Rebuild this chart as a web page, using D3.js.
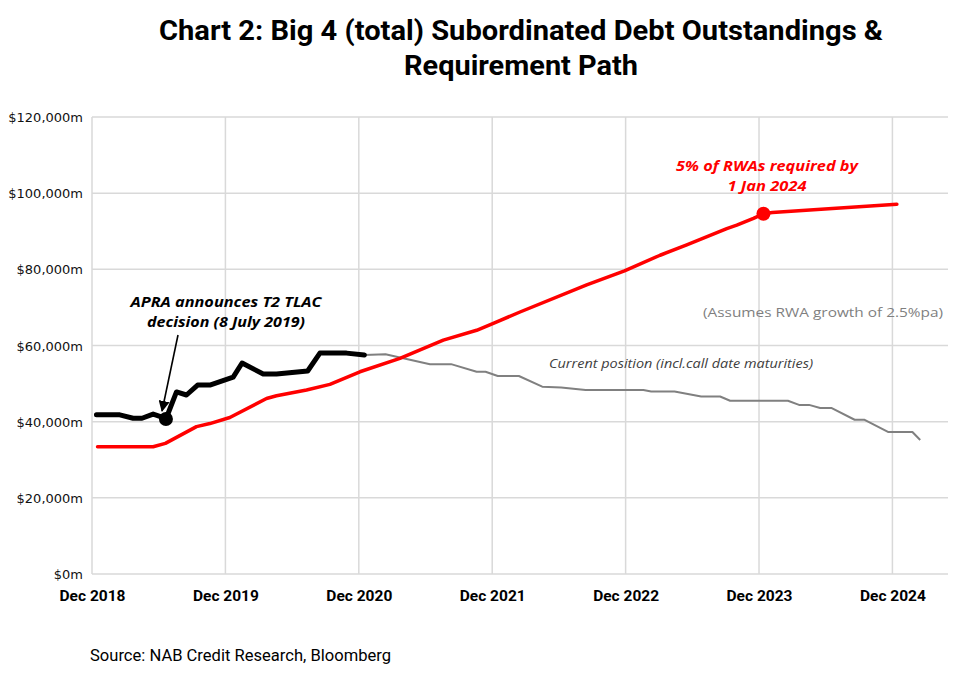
<!DOCTYPE html>
<html>
<head>
<meta charset="utf-8">
<script src="https://cdn.jsdelivr.net/npm/d3@7"></script>
<style>
  body { margin: 0; background: #fff; }
</style>
</head>
<body>
<div id="chart"></div>
<script>
// months counted from Dec 2018
var tickMonths = [0, 12, 24, 36, 48, 60, 72];
var tickLabels = ["Dec 2018", "Dec 2019", "Dec 2020", "Dec 2021", "Dec 2022", "Dec 2023", "Dec 2024"];
var yTicks = [0, 20000, 40000, 60000, 80000, 100000, 120000];

// actual outstandings (thick black)
var blackMonths = [0.4, 2.5, 3.7, 4.5, 5.5, 6.3, 6.65, 7.6, 8.5, 9.5, 10.6, 12.7, 13.5, 15.4, 16.6, 19.4, 20.5, 22.9, 24.5];
var blackValues = [41800, 41800, 40900, 40900, 42000, 41200, 40700, 47800, 47000, 49600, 49600, 51700, 55400, 52500, 52500, 53300, 58000, 58000, 57500];

// current position incl. call date maturities (grey)
var greyMonths = [24.5, 26.4, 30.4, 32.3, 34.6, 35.4, 36.5, 38.4, 40.5, 42.2, 44.4, 49.6, 50.3, 52.4, 54.8, 56.5, 57.4, 62.6, 63.6, 64.5, 65.5, 66.5, 68.6, 69.5, 71.6, 73.8, 74.5];
var greyValues = [57500, 57700, 55100, 55100, 53100, 53100, 52000, 52000, 49200, 49000, 48300, 48300, 47900, 47900, 46600, 46600, 45500, 45500, 44400, 44400, 43600, 43600, 40500, 40500, 37300, 37300, 35200];

// requirement path (red)
var redMonths = [0.5, 5.5, 6.6, 9.4, 10.6, 12.4, 15.7, 16.6, 19.3, 21.4, 24.1, 27.7, 31.6, 34.6, 36.1, 38.5, 44.5, 47.9, 51.1, 53.5, 57.1, 58.0, 59.5, 60.4, 61.2, 66.6, 72.4];
var redValues = [33400, 33400, 34300, 38700, 39500, 41100, 46100, 46800, 48300, 49800, 53100, 56600, 61400, 64000, 65800, 68800, 75900, 79600, 83700, 86400, 90700, 91600, 93400, 94600, 94900, 96000, 97100];

var apraDot = {m: 6.65, v: 40700};
var reqDot = {m: 60.4, v: 94600};

function zip(ms, vs) {
  return ms.map(function(m, i) { return {m: m, v: vs[i]}; });
}
var blackData = zip(blackMonths, blackValues);
var greyData = zip(greyMonths, greyValues);
var redData = zip(redMonths, redValues);

var W = 960, H = 677;
var margin = {top: 117, right: 12, bottom: 103, left: 92},
    width = W - margin.left - margin.right,
    height = H - margin.top - margin.bottom;

var svg = d3.select("#chart")
  .append("svg")
  .attr("width", W)
  .attr("height", H)
  .style("background", "#fff");

// title
var title = svg.append("g")
  .attr("font-family", "Roboto")
  .attr("font-weight", 700)
  .attr("font-size", 28)
  .attr("fill", "#000")
  .attr("text-anchor", "middle");
title.append("text").attr("x", 521).attr("y", 40)
  .attr("textLength", 724).attr("lengthAdjust", "spacingAndGlyphs")
  .text("Chart 2: Big 4 (total) Subordinated Debt Outstandings &");
title.append("text").attr("x", 521).attr("y", 75)
  .attr("textLength", 234).attr("lengthAdjust", "spacingAndGlyphs")
  .text("Requirement Path");

var g = svg.append("g")
  .attr("transform", "translate(" + margin.left + "," + margin.top + ")");

var x = d3.scaleLinear().domain([0, 77]).range([0, width]);
var y = d3.scaleLinear().domain([0, 120000]).range([height, 0]);

// grid
g.append("g")
  .selectAll("line.h")
  .data(yTicks)
  .enter().append("line")
    .attr("x1", 0).attr("x2", width)
    .attr("y1", function(d) { return y(d); })
    .attr("y2", function(d) { return y(d); })
    .attr("stroke", "#d9d9d9")
    .attr("stroke-width", 1.5);
g.append("g")
  .selectAll("line.v")
  .data(tickMonths)
  .enter().append("line")
    .attr("x1", function(d) { return x(d); })
    .attr("x2", function(d) { return x(d); })
    .attr("y1", 0).attr("y2", height)
    .attr("stroke", "#d9d9d9")
    .attr("stroke-width", 1.5);

// y axis labels
var yAxis = g.append("g")
  .attr("transform", "translate(-6,0)")
  .call(d3.axisLeft(y).tickValues(yTicks).tickSize(0)
    .tickFormat(function(d) { return "$" + d3.format(",")(d) + "m"; }));
yAxis.select(".domain").remove();
yAxis.selectAll("text")
  .attr("font-family", "DejaVu Sans")
  .attr("font-size", 13)
  .attr("fill", "#111")
  .attr("dy", "0.35em");

// x axis labels
var xAxis = g.append("g")
  .attr("transform", "translate(0," + height + ")")
  .call(d3.axisBottom(x).tickValues(tickMonths).tickSize(0)
    .tickFormat(function(d, i) { return tickLabels[i]; }));
xAxis.select(".domain").remove();
xAxis.selectAll("text")
  .attr("font-family", "Roboto")
  .attr("font-weight", 700)
  .attr("font-size", 15.5)
  .attr("fill", "#000")
  .attr("y", 27)
  .attr("dy", 0);

var line = d3.line()
  .x(function(d) { return x(d.m); })
  .y(function(d) { return y(d.v); });

g.append("path")
  .datum(greyData)
  .attr("fill", "none")
  .attr("stroke", "#808080")
  .attr("stroke-width", 2)
  .attr("stroke-linejoin", "round")
  .attr("d", line);

g.append("path")
  .datum(redData)
  .attr("fill", "none")
  .attr("stroke", "#ff0000")
  .attr("stroke-width", 3.5)
  .attr("stroke-linejoin", "round")
  .attr("stroke-linecap", "round")
  .attr("d", line);

g.append("path")
  .datum(blackData)
  .attr("fill", "none")
  .attr("stroke", "#000")
  .attr("stroke-width", 5)
  .attr("stroke-linejoin", "round")
  .attr("stroke-linecap", "round")
  .attr("d", line);

g.append("circle")
  .attr("cx", x(apraDot.m)).attr("cy", y(apraDot.v))
  .attr("r", 7).attr("fill", "#000");
g.append("circle")
  .attr("cx", x(reqDot.m)).attr("cy", y(reqDot.v))
  .attr("r", 7).attr("fill", "#ff0000");

// arrow for APRA note
svg.append("defs").append("marker")
  .attr("id", "arr")
  .attr("viewBox", "0 0 10 10")
  .attr("refX", 9).attr("refY", 5)
  .attr("markerWidth", 7).attr("markerHeight", 7)
  .attr("orient", "auto")
  .append("path").attr("d", "M0,0 L10,5 L0,10 z").attr("fill", "#000");

svg.append("line")
  .attr("x1", 178).attr("y1", 335)
  .attr("x2", margin.left + x(6.3)).attr("y2", y(42800) + margin.top)
  .attr("stroke", "#000")
  .attr("stroke-width", 1.6)
  .attr("marker-end", "url(#arr)");

// annotations
var apra = svg.append("g")
  .attr("font-family", "Open Sans")
  .attr("font-weight", 700)
  .attr("font-style", "italic")
  .attr("font-size", 14.5)
  .attr("fill", "#000")
  .attr("text-anchor", "middle");
apra.append("text").attr("x", 226).attr("y", 307)
  .attr("textLength", 191).attr("lengthAdjust", "spacingAndGlyphs")
  .text("APRA announces  T2 TLAC");
apra.append("text").attr("x", 226).attr("y", 327)
  .attr("textLength", 158).attr("lengthAdjust", "spacingAndGlyphs")
  .text("decision (8 July 2019)");

var req = svg.append("g")
  .attr("font-family", "Open Sans")
  .attr("font-weight", 700)
  .attr("font-style", "italic")
  .attr("font-size", 14.5)
  .attr("fill", "#ff0000")
  .attr("text-anchor", "middle");
req.append("text").attr("x", 767).attr("y", 171)
  .attr("textLength", 182).attr("lengthAdjust", "spacingAndGlyphs")
  .text("5% of RWAs required by");
req.append("text").attr("x", 767).attr("y", 191)
  .attr("textLength", 79).attr("lengthAdjust", "spacingAndGlyphs")
  .text("1 Jan 2024");

svg.append("text")
  .attr("x", 943).attr("y", 317)
  .attr("text-anchor", "end")
  .attr("font-family", "Open Sans")
  .attr("font-size", 13.5)
  .attr("fill", "#7f7f7f")
  .attr("textLength", 240).attr("lengthAdjust", "spacingAndGlyphs")
  .text("(Assumes RWA growth of 2.5%pa)");

svg.append("text")
  .attr("x", 549).attr("y", 368)
  .attr("font-family", "Open Sans")
  .attr("font-style", "italic")
  .attr("font-size", 12)
  .attr("fill", "#404040")
  .attr("textLength", 264).attr("lengthAdjust", "spacingAndGlyphs")
  .text("Current position (incl.call date maturities)");

// source
svg.append("text")
  .attr("x", 90).attr("y", 661)
  .attr("font-family", "Roboto")
  .attr("font-size", 17)
  .attr("fill", "#000")
  .attr("textLength", 301).attr("lengthAdjust", "spacingAndGlyphs")
  .text("Source: NAB Credit Research, Bloomberg");
</script>
</body>
</html>
